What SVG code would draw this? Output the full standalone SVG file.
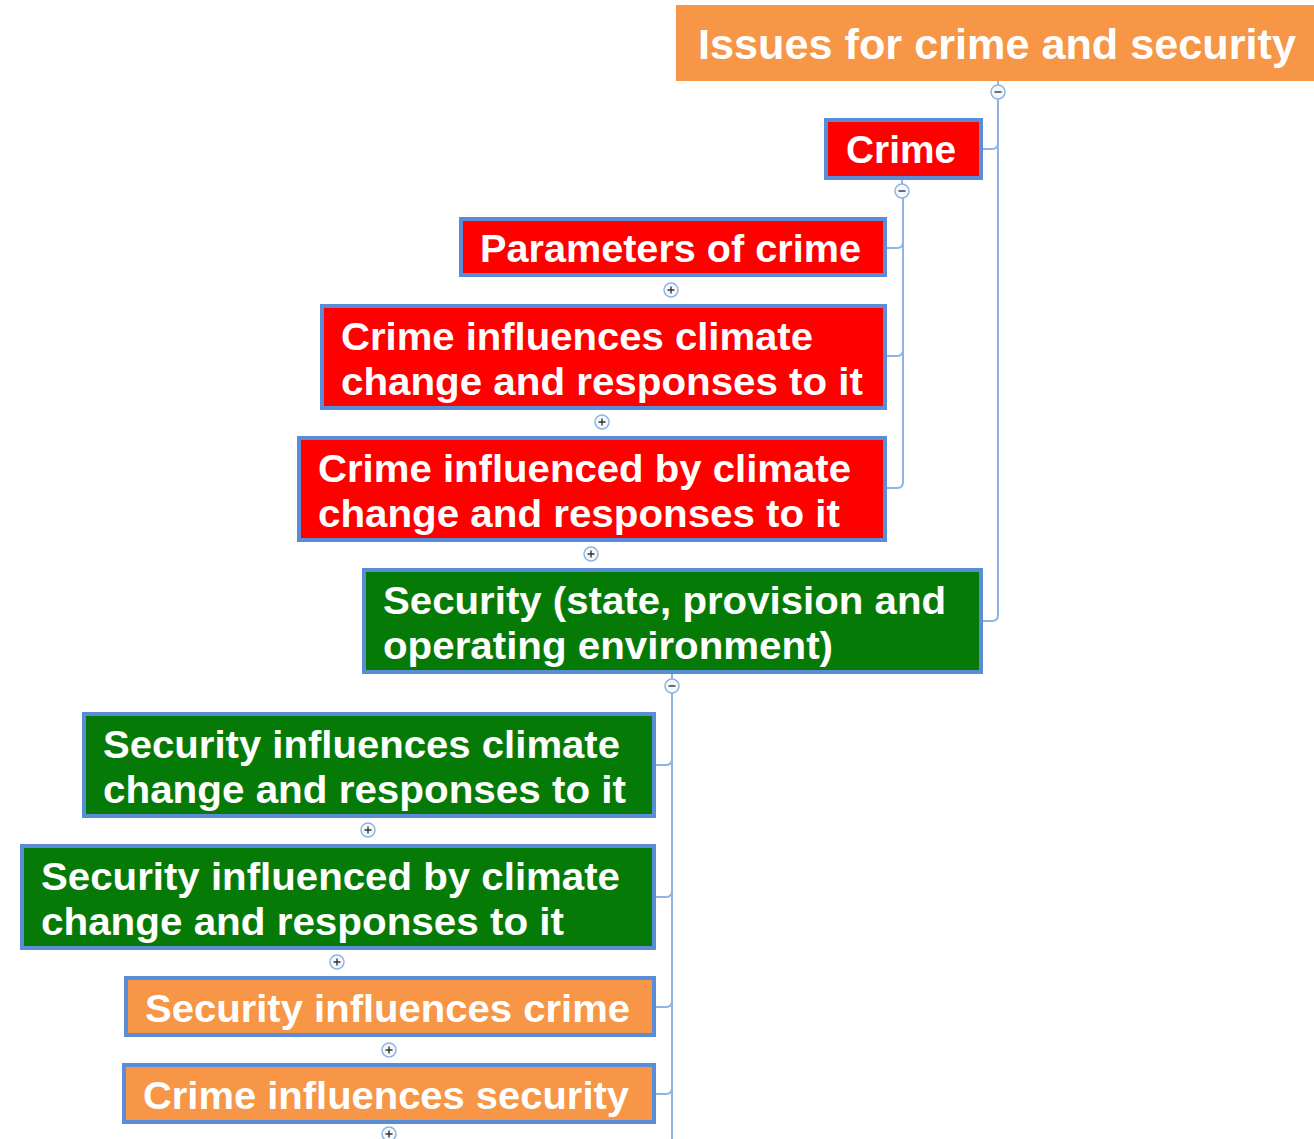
<svg xmlns="http://www.w3.org/2000/svg" width="1314" height="1139" viewBox="0 0 1314 1139">
<style>
.box{stroke:#5B8DD6;stroke-width:4}
.red{fill:#FF0000}
.green{fill:#067A06}
.orange{fill:#F79646}
.t{font-family:"Liberation Sans",Arial,sans-serif;font-weight:bold;font-size:39px;fill:#FFFFFF}
.conn{fill:none;stroke:#8DB4E2;stroke-width:2}
.btn{fill:#F4F8FD;stroke:#8DB4E2;stroke-width:1.5}
.sign{stroke:#333;stroke-width:1.4}
</style>
<g id="connectors">
<path class="conn" d="M998,99 V615 Q998,621 992,621 H983"/>
<path class="conn" d="M983,149 H992 Q998,149 998,143"/>
<line class="conn" x1="998" y1="81" x2="998" y2="85"/>
<path class="conn" d="M903,198 V482 Q903,488 897,488 H887"/>
<path class="conn" d="M887,248 H897 Q903,248 903,242"/>
<path class="conn" d="M887,356 H897 Q903,356 903,350"/>
<line class="conn" x1="902" y1="180" x2="902" y2="184"/>
<path class="conn" d="M672,693 V1139"/>
<line class="conn" x1="672" y1="674" x2="672" y2="679"/>
<path class="conn" d="M656,765 H666 Q672,765 672,759"/>
<path class="conn" d="M656,897 H666 Q672,897 672,891"/>
<path class="conn" d="M656,1007 H666 Q672,1007 672,1001"/>
<path class="conn" d="M656,1094 H666 Q672,1094 672,1088"/>
</g>
<g id="buttons">
<g><circle class="btn" cx="998" cy="92" r="7"/><line class="sign" x1="994.5" y1="92" x2="1001.5" y2="92"/></g>
<g><circle class="btn" cx="902" cy="191" r="7"/><line class="sign" x1="898.5" y1="191" x2="905.5" y2="191"/></g>
<g><circle class="btn" cx="672" cy="686" r="7"/><line class="sign" x1="668.5" y1="686" x2="675.5" y2="686"/></g>
<g><circle class="btn" cx="671" cy="290" r="7"/><path class="sign" d="M667.5,290 H674.5 M671,286.5 V293.5"/></g>
<g><circle class="btn" cx="602" cy="422" r="7"/><path class="sign" d="M598.5,422 H605.5 M602,418.5 V425.5"/></g>
<g><circle class="btn" cx="591" cy="554" r="7"/><path class="sign" d="M587.5,554 H594.5 M591,550.5 V557.5"/></g>
<g><circle class="btn" cx="368" cy="830" r="7"/><path class="sign" d="M364.5,830 H371.5 M368,826.5 V833.5"/></g>
<g><circle class="btn" cx="337" cy="962" r="7"/><path class="sign" d="M333.5,962 H340.5 M337,958.5 V965.5"/></g>
<g><circle class="btn" cx="389" cy="1050" r="7"/><path class="sign" d="M385.5,1050 H392.5 M389,1046.5 V1053.5"/></g>
<g><circle class="btn" cx="389" cy="1134" r="7"/><path class="sign" d="M385.5,1134 H392.5 M389,1130.5 V1137.5"/></g>
</g>
<g id="root">
<rect class="orange" x="676" y="5" width="640" height="76"/>
<text class="t" x="698" y="59" style="font-size:43px" textLength="598" lengthAdjust="spacingAndGlyphs">Issues for crime and security</text>
</g>
<g id="crime">
<rect class="box red" x="826" y="120" width="155" height="58"/>
<text class="t" x="846" y="163" textLength="110" lengthAdjust="spacingAndGlyphs">Crime</text>
</g>
<g id="parameters">
<rect class="box red" x="461" y="219" width="424" height="56"/>
<text class="t" x="480" y="262" textLength="381" lengthAdjust="spacingAndGlyphs">Parameters of crime</text>
</g>
<g id="crime-influences">
<rect class="box red" x="322" y="306" width="563" height="102"/>
<text class="t" x="341" y="350" textLength="472" lengthAdjust="spacingAndGlyphs">Crime influences climate</text>
<text class="t" x="341" y="395" textLength="522" lengthAdjust="spacingAndGlyphs">change and responses to it</text>
</g>
<g id="crime-influenced">
<rect class="box red" x="299" y="438" width="586" height="102"/>
<text class="t" x="318" y="482" textLength="533" lengthAdjust="spacingAndGlyphs">Crime influenced by climate</text>
<text class="t" x="318" y="527" textLength="522" lengthAdjust="spacingAndGlyphs">change and responses to it</text>
</g>
<g id="security">
<rect class="box green" x="364" y="570" width="617" height="102"/>
<text class="t" x="383" y="614" textLength="563" lengthAdjust="spacingAndGlyphs">Security (state, provision and</text>
<text class="t" x="383" y="659" textLength="450" lengthAdjust="spacingAndGlyphs">operating environment)</text>
</g>
<g id="security-influences">
<rect class="box green" x="84" y="714" width="570" height="102"/>
<text class="t" x="103" y="758" textLength="517" lengthAdjust="spacingAndGlyphs">Security influences climate</text>
<text class="t" x="103" y="803" textLength="523" lengthAdjust="spacingAndGlyphs">change and responses to it</text>
</g>
<g id="security-influenced">
<rect class="box green" x="22" y="846" width="632" height="102"/>
<text class="t" x="41" y="890" textLength="579" lengthAdjust="spacingAndGlyphs">Security influenced by climate</text>
<text class="t" x="41" y="935" textLength="523" lengthAdjust="spacingAndGlyphs">change and responses to it</text>
</g>
<g id="security-influences-crime">
<rect class="box orange" x="126" y="978" width="528" height="57"/>
<text class="t" x="145" y="1022" textLength="485" lengthAdjust="spacingAndGlyphs">Security influences crime</text>
</g>
<g id="crime-influences-security">
<rect class="box orange" x="124" y="1065" width="530" height="57"/>
<text class="t" x="143" y="1109" textLength="486" lengthAdjust="spacingAndGlyphs">Crime influences security</text>
</g>
</svg>
